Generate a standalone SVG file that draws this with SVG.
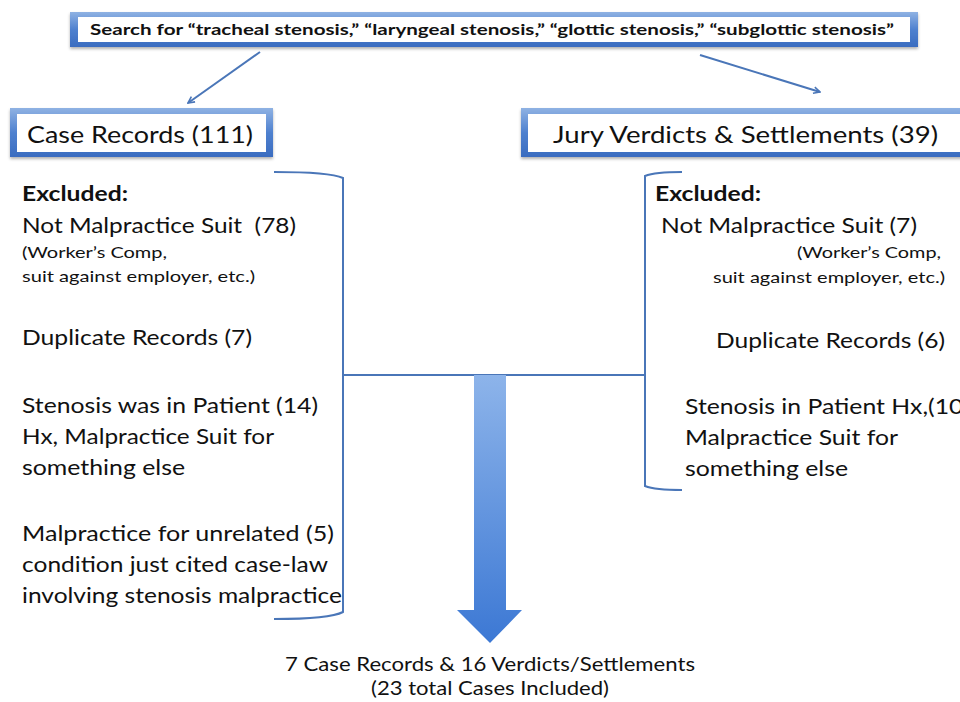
<svg xmlns="http://www.w3.org/2000/svg" width="960" height="702" viewBox="0 0 960 702">
<defs>
<linearGradient id="frame" x1="0" y1="0" x2="0" y2="1">
<stop offset="0" stop-color="#8fb2e3"/>
<stop offset="0.5" stop-color="#4f81cf"/>
<stop offset="1" stop-color="#3a6cc0"/>
</linearGradient>
<linearGradient id="big" x1="0" y1="0" x2="0" y2="1">
<stop offset="0" stop-color="#8db4ea"/>
<stop offset="1" stop-color="#3c78d4"/>
</linearGradient>
<marker id="ah" viewBox="0 0 10 10" refX="9" refY="5" markerWidth="8" markerHeight="8" orient="auto" markerUnits="userSpaceOnUse">
<path d="M1,1 L9,5 L1,9" fill="none" stroke="#4a76b8" stroke-width="2"/>
</marker>
<filter id="sh" x="-5%" y="-20%" width="110%" height="150%">
<feDropShadow dx="0" dy="2" stdDeviation="1.5" flood-color="#000" flood-opacity="0.3"/>
</filter>
</defs>
<style>
.t{font-family:Lato,"Open Sans","Liberation Sans",sans-serif;fill:#111}
.b{font-weight:bold}
.c{stroke:#4a76b8;stroke-width:2;fill:none}
</style>
<rect width="960" height="702" fill="#fff"/>
<g id="search">
<rect x="70" y="12" width="848" height="35" fill="url(#frame)" filter="url(#sh)"/>
<rect x="78" y="17" width="832" height="25" fill="#fff"/>
<text class="t b" x="492" y="35" font-size="15.5" text-anchor="middle" textLength="804" lengthAdjust="spacingAndGlyphs">Search for “tracheal stenosis,” “laryngeal stenosis,” “glottic stenosis,” “subglottic stenosis”</text>
</g>
<g id="case-records">
<rect x="10" y="108" width="263" height="49" fill="url(#frame)" filter="url(#sh)"/>
<rect x="17" y="114" width="249" height="38" fill="#fff"/>
<text class="t" x="27" y="143" font-size="23" textLength="226" lengthAdjust="spacingAndGlyphs">Case Records (111)</text>
</g>
<g id="jury">
<rect x="521" y="108" width="450" height="49" fill="url(#frame)" filter="url(#sh)"/>
<rect x="528" y="114" width="440" height="38" fill="#fff"/>
<text class="t" x="553" y="143" font-size="23" textLength="385" lengthAdjust="spacingAndGlyphs">Jury Verdicts &amp; Settlements (39)</text>
</g>
<g id="left-excluded">
<text class="t b" x="22" y="201" font-size="21" textLength="106" lengthAdjust="spacingAndGlyphs">Excluded:</text>
<text class="t" x="22" y="233" font-size="22" textLength="274" lengthAdjust="spacingAndGlyphs" xml:space="preserve">Not Malpractice Suit  (78)</text>
<text class="t" x="22" y="258" font-size="16" textLength="145" lengthAdjust="spacingAndGlyphs">(Worker’s Comp,</text>
<text class="t" x="22" y="282" font-size="16" textLength="233" lengthAdjust="spacingAndGlyphs">suit against employer, etc.)</text>
<text class="t" x="22" y="345" font-size="22" textLength="230" lengthAdjust="spacingAndGlyphs">Duplicate Records (7)</text>
<text class="t" x="22" y="413" font-size="22" textLength="296" lengthAdjust="spacingAndGlyphs">Stenosis was in Patient (14)</text>
<text class="t" x="22" y="444" font-size="22" textLength="252" lengthAdjust="spacingAndGlyphs">Hx, Malpractice Suit for</text>
<text class="t" x="22" y="475" font-size="22" textLength="163" lengthAdjust="spacingAndGlyphs">something else</text>
<text class="t" x="22" y="541" font-size="22" textLength="312" lengthAdjust="spacingAndGlyphs">Malpractice for unrelated (5)</text>
<text class="t" x="22" y="572" font-size="22" textLength="306" lengthAdjust="spacingAndGlyphs">condition just cited case-law</text>
<text class="t" x="22" y="603" font-size="22" textLength="320" lengthAdjust="spacingAndGlyphs">involving stenosis malpractice</text>
</g>
<g id="right-excluded">
<text class="t b" x="655" y="201" font-size="21" textLength="106" lengthAdjust="spacingAndGlyphs">Excluded:</text>
<text class="t" x="661" y="233" font-size="22" textLength="256" lengthAdjust="spacingAndGlyphs">Not Malpractice Suit (7)</text>
<text class="t" x="941" y="258" font-size="16" text-anchor="end" textLength="144" lengthAdjust="spacingAndGlyphs">(Worker’s Comp,</text>
<text class="t" x="945" y="283" font-size="16" text-anchor="end" textLength="232" lengthAdjust="spacingAndGlyphs">suit against employer, etc.)</text>
<text class="t" x="716" y="348" font-size="22" textLength="229" lengthAdjust="spacingAndGlyphs">Duplicate Records (6)</text>
<text class="t" x="685" y="414" font-size="22" textLength="285" lengthAdjust="spacingAndGlyphs">Stenosis in Patient Hx,(10)</text>
<text class="t" x="685" y="445" font-size="22" textLength="213" lengthAdjust="spacingAndGlyphs">Malpractice Suit for</text>
<text class="t" x="685" y="476" font-size="22" textLength="163" lengthAdjust="spacingAndGlyphs">something else</text>
</g>
<g id="result">
<text class="t" x="490" y="671" font-size="20" text-anchor="middle" textLength="410" lengthAdjust="spacingAndGlyphs">7 Case Records &amp; 16 Verdicts/Settlements</text>
<text class="t" x="490" y="695" font-size="20" text-anchor="middle" textLength="238" lengthAdjust="spacingAndGlyphs">(23 total Cases Included)</text>
</g>
<g id="connectors">
<line class="c" x1="260" y1="52" x2="188" y2="103" marker-end="url(#ah)"/>
<line class="c" x1="700" y1="55" x2="820" y2="92" marker-end="url(#ah)"/>
<path class="c" d="M274,172 Q330,172 343,178 L343,612 Q330,619 274,619"/>
<path class="c" d="M682,172 Q655,172 645,176 L645,486 Q655,490 682,490"/>
<line class="c" x1="343" y1="375" x2="645" y2="375"/>
<path d="M474,375 L506,375 L506,610 L522,610 L490,643 L457,610 L474,610 Z" fill="url(#big)"/>
</g>
</svg>
